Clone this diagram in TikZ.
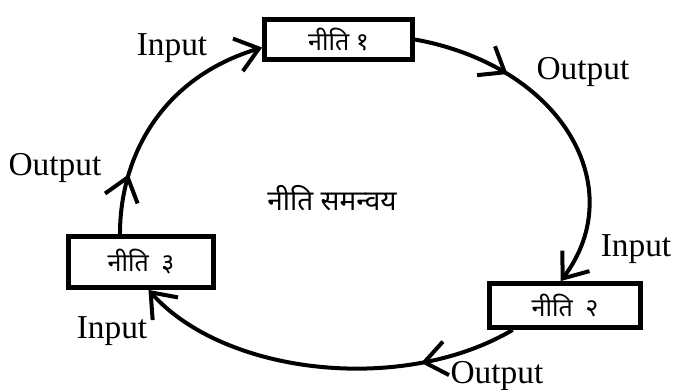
\documentclass[tikz,border=0pt]{standalone}
\usepackage{fontspec}
\setmainfont{Liberation Serif}
\newfontfamily\devfont[Script=Devanagari]{Noto Sans}
\usetikzlibrary{arrows.meta,decorations.markings}
\begin{document}
\begin{tikzpicture}[x=0.5pt,y=0.5pt,
  niti/.style={draw,line width=2.4pt,inner sep=0pt,font=\devfont\fontsize{12.5}{14}\selectfont},
  lbl/.style={font=\fontsize{16.7}{18}\selectfont},
  flow/.style={line width=2pt,-{Straight Barb[length=11pt,width=17pt]},
    decoration={markings,mark=at position #1 with {\arrow{Straight Barb[length=11pt,width=17pt]}}},
    postaction={decorate}}]
\useasboundingbox (0,0) rectangle (674,390);
\node[niti,minimum width=74pt,minimum height=20pt] (n1) at (338.5,350.5) {नीति १};
\node[niti,minimum width=75.5pt,minimum height=22pt] (n2) at (565,84.5) {नीति\enspace २};
\node[niti,minimum width=72.5pt,minimum height=25.5pt] (n3) at (141,128) {नीति\enspace ३};
\node[font=\devfont\fontsize{14}{16}\selectfont] (mid) at (332,192) {नीति समन्वय};
\node[lbl] (in1) at (172,342) {Input};
\node[lbl] (out1) at (583,318) {Output};
\node[lbl] (in2) at (636,141) {Input};
\node[lbl] (out2) at (497,14) {Output};
\node[lbl] (in3) at (112,59) {Input};
\node[lbl] (out3) at (55,222) {Output};
\draw[flow=0.29] (n1.east) .. controls +(148,-27) and +(70,93) .. (n2.100);
\draw[flow=0.25] (n2.205) .. controls +(-110,-65) and +(76,-85) .. (n3.-75);
\draw[flow=0.24] (n3.127) .. controls +(0,76) and +(-102,-31) .. (n1.186);
\end{tikzpicture}
\end{document}
